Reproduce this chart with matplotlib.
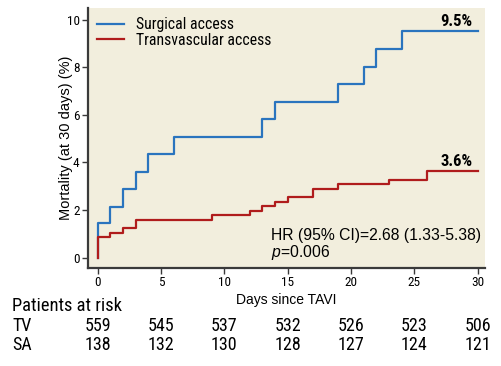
import numpy as np
import matplotlib.pyplot as plt
from matplotlib import font_manager

installed = {f.name for f in font_manager.fontManager.ttflist}


def pick(prefs):
    for p in prefs:
        if p in installed:
            return p
    return 'DejaVu Sans'


cond = pick(['Roboto Condensed', 'Archivo Narrow', 'PT Sans Narrow',
             'IBM Plex Sans Condensed', 'Fira Sans Condensed', 'Asap Condensed'])
sans = pick(['Liberation Sans', 'Arimo', 'DejaVu Sans'])
plt.rcParams['font.family'] = [sans, 'DejaVu Sans']
plt.rcParams['mathtext.fontset'] = 'custom'
plt.rcParams['mathtext.rm'] = sans
plt.rcParams['mathtext.it'] = sans + ':italic'

# step data (days, cumulative mortality %)
sa_days = [0, 0, 1, 2, 3, 4, 6, 13, 14, 19, 21, 22, 24, 30]
sa_mort = [0, 1.45, 2.15, 2.88, 3.6, 4.35, 5.07, 5.82, 6.55, 7.28, 8.02, 8.75, 9.52, 9.52]
tv_days = [0, 0, 1, 2, 3, 9, 12, 13, 14, 15, 17, 19, 23, 26, 30]
tv_mort = [0, 0.86, 1.05, 1.24, 1.6, 1.8, 1.97, 2.17, 2.35, 2.53, 2.9, 3.08, 3.25, 3.64, 3.64]

risk_days = [0, 5, 10, 15, 20, 25, 30]
risk_tv = [559, 545, 537, 532, 526, 523, 506]
risk_sa = [138, 132, 130, 128, 127, 124, 121]

blue = '#2a74be'
red = '#b01c1c'
spine = '#3a3a3a'

fig = plt.figure(figsize=(5.02, 3.66), dpi=100)
ax = fig.add_axes([0.175, 0.268, 0.791, 0.710])
ax.set_facecolor('#f2eedd')

ax.step(sa_days, sa_mort, where='post', color=blue, lw=1.6, label='Surgical access')
ax.step(tv_days, tv_mort, where='post', color=red, lw=1.6, label='Transvascular access')

ax.set_xlim(-0.77, 30.57)
ax.set_ylim(-0.43, 10.49)
ax.set_xticks(range(0, 31, 5))
ax.set_yticks(range(0, 11, 2))
for s in ['top', 'right']:
    ax.spines[s].set_visible(False)
for s in ['left', 'bottom']:
    ax.spines[s].set_color(spine)
    ax.spines[s].set_linewidth(1.6)
ax.tick_params(colors=spine, labelcolor='black', length=4, width=1, pad=2)
for lab in ax.get_xticklabels() + ax.get_yticklabels():
    lab.set_family(cond)
    lab.set_fontsize(9.5)
ax.set_ylabel('Mortality (at 30 days) (%)', fontsize=10.5)
ax.yaxis.set_label_coords(-0.038, 0.5)
ax.set_xlabel('Days since TAVI', fontsize=10, labelpad=3)

leg = ax.legend(loc='upper left', frameon=False, prop={'family': cond, 'size': 11.3},
                handlelength=1.7, borderaxespad=0.4, labelspacing=0.02, handletextpad=0.75,
                borderpad=0.2)

ax.text(29.6, 9.62, '9.5%', ha='right', va='bottom', fontsize=12, fontweight='bold', family=cond)
ax.text(29.6, 3.74, '3.6%', ha='right', va='bottom', fontsize=12, fontweight='bold', family=cond)
ax.text(13.7, 0.75, 'HR (95% CI)=2.68 (1.33-5.38)', fontsize=11.3)
ax.text(13.7, 0.03, r'$p$=0.006', fontsize=11.3)

trans = ax.get_xaxis_transform()
tsize = 13
fig.text(0.024, 1 - 306 / 366, 'Patients at risk', fontsize=13.3, va='center', family=cond)
fig.text(0.024, 1 - 326 / 366, 'TV', fontsize=tsize, va='center', family=cond)
fig.text(0.024, 1 - 345 / 366, 'SA', fontsize=tsize, va='center', family=cond)
ytv = (1 - 326 / 366 - 0.268) / 0.710
ysa = (1 - 345 / 366 - 0.268) / 0.710
for d, a, b in zip(risk_days, risk_tv, risk_sa):
    ax.text(d, ytv, str(a), transform=trans, ha='center', va='center', fontsize=tsize,
            family=cond, clip_on=False)
    ax.text(d, ysa, str(b), transform=trans, ha='center', va='center', fontsize=tsize,
            family=cond, clip_on=False)

fig.savefig('out.png', dpi=100)
